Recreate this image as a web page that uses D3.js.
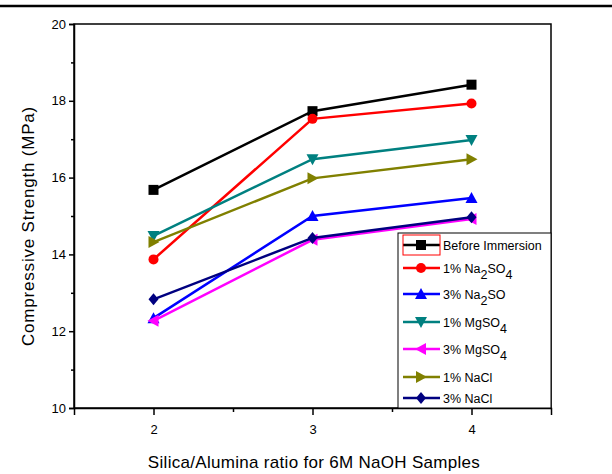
<!DOCTYPE html>
<html lang="en">
<head>
<meta charset="UTF-8">
<title>Compressive strength</title>
<script src="https://d3js.org/d3.v7.min.js"></script>
<style>
body { margin: 0; background: #fff; }
svg { display: block; font-family: "Liberation Sans", Arial, sans-serif; }
.tick text { font-size: 13px; fill: #000; font-family: "Liberation Sans", Arial, sans-serif; }
</style>
</head>
<body>
<div id="container"></div>
<script>
// data
const ratios = [2, 3, 4];
const beforeImmersion = [15.68, 17.73, 18.42];
const na2so4_1 = [13.87, 17.53, 17.93];
const na2so4_3 = [12.34, 15.0, 15.47];
const mgso4_1 = [14.48, 16.48, 16.98];
const mgso4_3 = [12.27, 14.38, 14.92];
const nacl_1 = [14.32, 15.98, 16.48];
const nacl_3 = [12.83, 14.43, 14.97];
const yTicks = [10, 12, 14, 16, 18, 20];
const xTicks = [2, 3, 4];

const series = [
  { name: ["Before Immersion"], vals: beforeImmersion, color: "#000000", shape: "square" },
  { name: ["1% Na", "2", "SO", "4"], vals: na2so4_1, color: "#ff0000", shape: "circle" },
  { name: ["3% Na", "2", "SO"], vals: na2so4_3, color: "#0000ff", shape: "up" },
  { name: ["1% MgSO", "4"], vals: mgso4_1, color: "#008080", shape: "down" },
  { name: ["3% MgSO", "4"], vals: mgso4_3, color: "#ff00ff", shape: "left" },
  { name: ["1% NaCl"], vals: nacl_1, color: "#808000", shape: "right" },
  { name: ["3% NaCl"], vals: nacl_3, color: "#000080", shape: "diamond" }
];

const width = 612, height = 474;
const m = { left: 74, right: 551, top: 24, bottom: 408 };

const svg = d3.select("#container").append("svg")
  .attr("width", width).attr("height", height);

// thin rule along the top of the picture
svg.append("line").attr("x1", 0).attr("x2", width).attr("y1", 6).attr("y2", 6)
  .attr("stroke", "#000").attr("stroke-width", 2.5);

const x = d3.scaleLinear().domain([1.5, 4.5]).range([m.left, m.right]);
const y = d3.scaleLinear().domain([10, 20]).range([m.bottom, m.top]);

// frame
svg.append("rect")
  .attr("x", m.left).attr("y", m.top)
  .attr("width", m.right - m.left).attr("height", m.bottom - m.top)
  .attr("fill", "none").attr("stroke", "#000").attr("stroke-width", 1.5);

// axes
svg.append("g").attr("transform", `translate(0,${m.bottom})`)
  .call(d3.axisBottom(x).tickValues(xTicks).tickFormat(d3.format("d")).tickSize(7).tickPadding(10));
svg.append("g").attr("transform", `translate(0,${m.bottom})`)
  .call(d3.axisBottom(x).tickValues([2.5, 3.5]).tickFormat("").tickSize(4))
  .call(g => g.select(".domain").remove());
svg.append("g").attr("transform", `translate(${m.left},0)`)
  .call(d3.axisLeft(y).tickValues(yTicks).tickSize(5).tickPadding(3));
svg.append("g").attr("transform", `translate(${m.left},0)`)
  .call(d3.axisLeft(y).tickValues([11, 13, 15, 17, 19]).tickFormat("").tickSize(3))
  .call(g => g.select(".domain").remove());
svg.selectAll(".domain").attr("stroke-width", 1.5);
svg.selectAll(".tick line").attr("stroke-width", 1.5);

// titles
svg.append("text").attr("x", 314).attr("y", 468).attr("text-anchor", "middle")
  .attr("font-size", 17).attr("letter-spacing", 0.3)
  .text("Silica/Alumina ratio for 6M NaOH Samples");
svg.append("text").attr("transform", "translate(34,226) rotate(-90)").attr("text-anchor", "middle")
  .attr("font-size", 17).attr("letter-spacing", 0.8)
  .text("Compressive Strength (MPa)");

// marker shapes
function marker(g, shape, color, cx, cy) {
  const s = 5;
  let el;
  if (shape === "square") {
    el = g.append("rect").attr("x", cx - s).attr("y", cy - s).attr("width", 2 * s).attr("height", 2 * s);
  } else if (shape === "circle") {
    el = g.append("circle").attr("cx", cx).attr("cy", cy).attr("r", s);
  } else {
    const pts = {
      up: [[0, -s - 1], [s + 1, s], [-s - 1, s]],
      down: [[0, s + 1], [s + 1, -s], [-s - 1, -s]],
      left: [[-s - 1, 0], [s, -s - 1], [s, s + 1]],
      right: [[s + 1, 0], [-s, -s - 1], [-s, s + 1]],
      diamond: [[0, -s - 1], [s, 0], [0, s + 1], [-s, 0]]
    }[shape];
    el = g.append("polygon").attr("points", pts.map(p => [cx + p[0], cy + p[1]].join(",")).join(" "));
  }
  el.attr("fill", color);
}

const line = d3.line().x((d, i) => x(ratios[i])).y(d => y(d));

series.forEach(s => {
  const g = svg.append("g");
  g.append("path").attr("d", line(s.vals)).attr("fill", "none")
    .attr("stroke", s.color).attr("stroke-width", 2.5);
  s.vals.forEach((v, i) => marker(g, s.shape, s.color, x(ratios[i]), y(v)));
});

// legend
const lg = svg.append("g");
lg.append("rect").attr("x", 398).attr("y", 233).attr("width", m.right - 398).attr("height", m.bottom - 233)
  .attr("fill", "#fff").attr("stroke", "#000").attr("stroke-width", 1);
const rowY = [245, 268, 294, 322, 349, 377, 398];
series.forEach((s, i) => {
  const yy = rowY[i];
  lg.append("line").attr("x1", 403).attr("x2", 440).attr("y1", yy).attr("y2", yy)
    .attr("stroke", s.color).attr("stroke-width", 2.5);
  marker(lg, s.shape, s.color, 421, yy);
  const t = lg.append("text").attr("x", 443).attr("y", yy + 5).attr("font-size", 12.5);
  s.name.forEach((part, k) => {
    const sub = k % 2 === 1;
    t.append("tspan").attr("dy", sub ? 6 : (k > 0 ? -6 : 0)).text(part);
  });
});
lg.append("rect").attr("x", 403).attr("y", 235).attr("width", 37).attr("height", 20)
  .attr("fill", "none").attr("stroke", "#ff0000").attr("stroke-width", 1);
</script>
</body>
</html>
